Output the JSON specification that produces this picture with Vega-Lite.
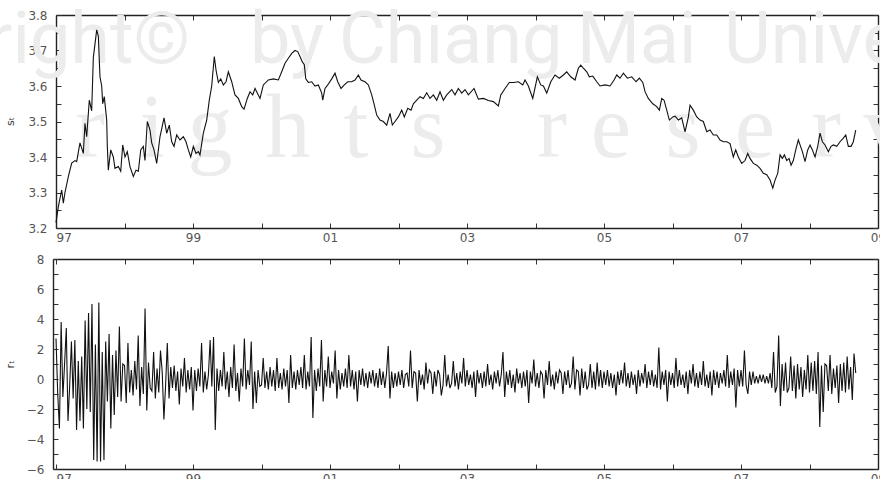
{
"$schema":"https://vega.github.io/schema/vega-lite/v6.json",
"width":825,"height":454,
"autosize":{"type":"none"},
"padding":{"left":53,"top":15,"right":2,"bottom":10},
"background":"white",
"config":{"view":{"stroke":null},
"axis":{"grid":false,"zindex":1,"domainColor":"#222","domainWidth":1.4,"tickColor":"#333","tickSize":-5,"tickWidth":1,"labelFont":"DejaVu Sans","labelFontSize":12,"labelColor":"#555","labelOverlap":false,"titleFont":"DejaVu Sans","titleFontSize":11,"titleColor":"#333","titleFontWeight":"normal"}},
"datasets":{
"wm1":[{"w":"Copyright©","t":1993.642,"v":3.665},{"w":"by","t":1999.832,"v":3.665},{"w":"Chiang","t":2001.131,"v":3.665},{"w":"Mai","t":2004.606,"v":3.665},{"w":"University","t":2006.752,"v":3.665}],
"wm2":[{"c":"r","t":1997.496,"v":3.4},{"c":"i","t":1998.401,"v":3.4},{"c":"g","t":1999.248,"v":3.4},{"c":"h","t":2000.387,"v":3.4},{"c":"t","t":2001.38,"v":3.4},{"c":"s","t":2002.431,"v":3.4},{"c":"r","t":2004.241,"v":3.4},{"c":"e","t":2005.102,"v":3.4},{"c":"s","t":2006.153,"v":3.4},{"c":"e","t":2007.204,"v":3.4},{"c":"r","t":2008.241,"v":3.4},{"c":"v","t":2009.117,"v":3.4}],
"s":[{"t":1997.0,"v":3.215},{"t":1997.034,"v":3.26},{"t":1997.083,"v":3.307},{"t":1997.107,"v":3.27},{"t":1997.131,"v":3.3},{"t":1997.18,"v":3.345},{"t":1997.229,"v":3.383},{"t":1997.277,"v":3.39},{"t":1997.302,"v":3.387},{"t":1997.35,"v":3.44},{"t":1997.399,"v":3.41},{"t":1997.423,"v":3.495},{"t":1997.448,"v":3.457},{"t":1997.486,"v":3.56},{"t":1997.521,"v":3.53},{"t":1997.545,"v":3.68},{"t":1997.594,"v":3.758},{"t":1997.618,"v":3.74},{"t":1997.642,"v":3.626},{"t":1997.667,"v":3.6},{"t":1997.682,"v":3.55},{"t":1997.705,"v":3.57},{"t":1997.74,"v":3.504},{"t":1997.749,"v":3.43},{"t":1997.764,"v":3.363},{"t":1997.799,"v":3.42},{"t":1997.837,"v":3.4},{"t":1997.861,"v":3.368},{"t":1997.91,"v":3.373},{"t":1997.945,"v":3.36},{"t":1997.974,"v":3.434},{"t":1998.007,"v":3.4},{"t":1998.041,"v":3.415},{"t":1998.08,"v":3.373},{"t":1998.129,"v":3.345},{"t":1998.168,"v":3.363},{"t":1998.202,"v":3.36},{"t":1998.237,"v":3.42},{"t":1998.275,"v":3.43},{"t":1998.299,"v":3.39},{"t":1998.333,"v":3.5},{"t":1998.372,"v":3.476},{"t":1998.397,"v":3.44},{"t":1998.431,"v":3.42},{"t":1998.47,"v":3.382},{"t":1998.518,"v":3.457},{"t":1998.577,"v":3.51},{"t":1998.616,"v":3.467},{"t":1998.654,"v":3.49},{"t":1998.689,"v":3.443},{"t":1998.723,"v":3.43},{"t":1998.762,"v":3.462},{"t":1998.81,"v":3.448},{"t":1998.859,"v":3.457},{"t":1998.898,"v":3.443},{"t":1998.932,"v":3.42},{"t":1998.967,"v":3.4},{"t":1999.005,"v":3.43},{"t":1999.044,"v":3.41},{"t":1999.078,"v":3.415},{"t":1999.102,"v":3.406},{"t":1999.151,"v":3.467},{"t":1999.2,"v":3.504},{"t":1999.238,"v":3.56},{"t":1999.273,"v":3.6},{"t":1999.311,"v":3.683},{"t":1999.336,"v":3.645},{"t":1999.37,"v":3.61},{"t":1999.405,"v":3.62},{"t":1999.443,"v":3.603},{"t":1999.482,"v":3.612},{"t":1999.516,"v":3.64},{"t":1999.565,"v":3.612},{"t":1999.613,"v":3.575},{"t":1999.662,"v":3.565},{"t":1999.711,"v":3.542},{"t":1999.745,"v":3.535},{"t":1999.793,"v":3.565},{"t":1999.832,"v":3.584},{"t":1999.872,"v":3.575},{"t":1999.905,"v":3.593},{"t":1999.939,"v":3.58},{"t":1999.978,"v":3.565},{"t":2000.027,"v":3.603},{"t":2000.1,"v":3.617},{"t":2000.173,"v":3.62},{"t":2000.246,"v":3.617},{"t":2000.295,"v":3.64},{"t":2000.343,"v":3.664},{"t":2000.392,"v":3.678},{"t":2000.441,"v":3.692},{"t":2000.489,"v":3.7},{"t":2000.529,"v":3.697},{"t":2000.562,"v":3.683},{"t":2000.596,"v":3.668},{"t":2000.625,"v":3.66},{"t":2000.646,"v":3.62},{"t":2000.684,"v":3.61},{"t":2000.733,"v":3.612},{"t":2000.781,"v":3.6},{"t":2000.83,"v":3.603},{"t":2000.879,"v":3.58},{"t":2000.894,"v":3.56},{"t":2000.927,"v":3.593},{"t":2000.967,"v":3.603},{"t":2001.025,"v":3.62},{"t":2001.073,"v":3.636},{"t":2001.113,"v":3.612},{"t":2001.161,"v":3.593},{"t":2001.209,"v":3.603},{"t":2001.259,"v":3.612},{"t":2001.317,"v":3.612},{"t":2001.365,"v":3.617},{"t":2001.414,"v":3.631},{"t":2001.453,"v":3.617},{"t":2001.511,"v":3.612},{"t":2001.56,"v":3.603},{"t":2001.609,"v":3.575},{"t":2001.647,"v":3.546},{"t":2001.682,"v":3.518},{"t":2001.73,"v":3.504},{"t":2001.779,"v":3.5},{"t":2001.828,"v":3.49},{"t":2001.876,"v":3.523},{"t":2001.91,"v":3.49},{"t":2001.949,"v":3.5},{"t":2001.998,"v":3.513},{"t":2002.047,"v":3.532},{"t":2002.085,"v":3.513},{"t":2002.135,"v":3.537},{"t":2002.183,"v":3.532},{"t":2002.217,"v":3.55},{"t":2002.266,"v":3.56},{"t":2002.314,"v":3.57},{"t":2002.363,"v":3.565},{"t":2002.412,"v":3.581},{"t":2002.46,"v":3.565},{"t":2002.509,"v":3.575},{"t":2002.558,"v":3.56},{"t":2002.606,"v":3.584},{"t":2002.655,"v":3.56},{"t":2002.704,"v":3.575},{"t":2002.777,"v":3.59},{"t":2002.825,"v":3.575},{"t":2002.874,"v":3.593},{"t":2002.923,"v":3.58},{"t":2002.971,"v":3.59},{"t":2003.02,"v":3.575},{"t":2003.103,"v":3.593},{"t":2003.166,"v":3.563},{"t":2003.239,"v":3.565},{"t":2003.312,"v":3.559},{"t":2003.385,"v":3.556},{"t":2003.458,"v":3.544},{"t":2003.493,"v":3.575},{"t":2003.555,"v":3.593},{"t":2003.618,"v":3.61},{"t":2003.677,"v":3.61},{"t":2003.75,"v":3.612},{"t":2003.814,"v":3.603},{"t":2003.847,"v":3.617},{"t":2003.896,"v":3.6},{"t":2003.96,"v":3.565},{"t":2004.027,"v":3.626},{"t":2004.077,"v":3.603},{"t":2004.115,"v":3.6},{"t":2004.164,"v":3.58},{"t":2004.223,"v":3.612},{"t":2004.285,"v":3.631},{"t":2004.348,"v":3.622},{"t":2004.407,"v":3.631},{"t":2004.456,"v":3.64},{"t":2004.515,"v":3.626},{"t":2004.577,"v":3.617},{"t":2004.626,"v":3.65},{"t":2004.661,"v":3.659},{"t":2004.699,"v":3.65},{"t":2004.748,"v":3.64},{"t":2004.786,"v":3.626},{"t":2004.836,"v":3.628},{"t":2004.894,"v":3.612},{"t":2004.942,"v":3.6},{"t":2005.015,"v":3.603},{"t":2005.088,"v":3.6},{"t":2005.147,"v":3.617},{"t":2005.186,"v":3.631},{"t":2005.234,"v":3.622},{"t":2005.283,"v":3.636},{"t":2005.341,"v":3.622},{"t":2005.405,"v":3.626},{"t":2005.468,"v":3.612},{"t":2005.516,"v":3.622},{"t":2005.566,"v":3.61},{"t":2005.599,"v":3.584},{"t":2005.647,"v":3.565},{"t":2005.712,"v":3.55},{"t":2005.77,"v":3.542},{"t":2005.808,"v":3.532},{"t":2005.843,"v":3.565},{"t":2005.877,"v":3.56},{"t":2005.916,"v":3.532},{"t":2005.954,"v":3.504},{"t":2006.004,"v":3.513},{"t":2006.037,"v":3.515},{"t":2006.086,"v":3.504},{"t":2006.135,"v":3.51},{"t":2006.183,"v":3.471},{"t":2006.232,"v":3.513},{"t":2006.256,"v":3.546},{"t":2006.304,"v":3.532},{"t":2006.354,"v":3.513},{"t":2006.402,"v":3.504},{"t":2006.45,"v":3.5},{"t":2006.5,"v":3.471},{"t":2006.548,"v":3.476},{"t":2006.596,"v":3.462},{"t":2006.646,"v":3.462},{"t":2006.694,"v":3.448},{"t":2006.742,"v":3.443},{"t":2006.792,"v":3.443},{"t":2006.84,"v":3.438},{"t":2006.888,"v":3.4},{"t":2006.923,"v":3.42},{"t":2006.961,"v":3.4},{"t":2007.011,"v":3.382},{"t":2007.059,"v":3.39},{"t":2007.098,"v":3.41},{"t":2007.132,"v":3.396},{"t":2007.18,"v":3.382},{"t":2007.23,"v":3.377},{"t":2007.278,"v":3.368},{"t":2007.326,"v":3.354},{"t":2007.376,"v":3.35},{"t":2007.424,"v":3.335},{"t":2007.464,"v":3.312},{"t":2007.497,"v":3.335},{"t":2007.536,"v":3.354},{"t":2007.57,"v":3.406},{"t":2007.604,"v":3.396},{"t":2007.633,"v":3.406},{"t":2007.668,"v":3.39},{"t":2007.701,"v":3.396},{"t":2007.731,"v":3.377},{"t":2007.764,"v":3.39},{"t":2007.799,"v":3.42},{"t":2007.837,"v":3.448},{"t":2007.862,"v":3.434},{"t":2007.896,"v":3.415},{"t":2007.935,"v":3.387},{"t":2007.974,"v":3.42},{"t":2008.008,"v":3.434},{"t":2008.042,"v":3.42},{"t":2008.081,"v":3.4},{"t":2008.12,"v":3.43},{"t":2008.154,"v":3.467},{"t":2008.188,"v":3.443},{"t":2008.227,"v":3.434},{"t":2008.275,"v":3.415},{"t":2008.315,"v":3.43},{"t":2008.348,"v":3.434},{"t":2008.398,"v":3.43},{"t":2008.446,"v":3.443},{"t":2008.494,"v":3.453},{"t":2008.529,"v":3.462},{"t":2008.567,"v":3.43},{"t":2008.607,"v":3.43},{"t":2008.64,"v":3.443},{"t":2008.675,"v":3.476}],
"r":[{"t":1997.0,"r":2.7},{"t":1997.025,"r":-1.0},{"t":1997.05,"r":-3.3},{"t":1997.075,"r":3.8},{"t":1997.1,"r":-1.2},{"t":1997.125,"r":1.0},{"t":1997.15,"r":3.4},{"t":1997.175,"r":-2.8},{"t":1997.2,"r":-0.4},{"t":1997.225,"r":2.5},{"t":1997.25,"r":-1.3},{"t":1997.275,"r":2.6},{"t":1997.3,"r":-3.4},{"t":1997.325,"r":1.2},{"t":1997.35,"r":-2.8},{"t":1997.375,"r":1.5},{"t":1997.4,"r":-3.3},{"t":1997.425,"r":3.9},{"t":1997.45,"r":-2.0},{"t":1997.475,"r":4.4},{"t":1997.5,"r":-2.2},{"t":1997.525,"r":5.0},{"t":1997.55,"r":-5.4},{"t":1997.575,"r":2.3},{"t":1997.6,"r":-5.5},{"t":1997.625,"r":5.1},{"t":1997.65,"r":-5.5},{"t":1997.675,"r":1.8},{"t":1997.7,"r":-5.4},{"t":1997.725,"r":2.5},{"t":1997.75,"r":-1.5},{"t":1997.775,"r":3.0},{"t":1997.8,"r":-3.3},{"t":1997.825,"r":1.6},{"t":1997.85,"r":-2.4},{"t":1997.875,"r":1.9},{"t":1997.9,"r":-1.2},{"t":1997.925,"r":3.5},{"t":1997.95,"r":-1.5},{"t":1997.975,"r":1.0},
{"t":1998.0,"r":0.9},{"t":1998.025,"r":-1.6},{"t":1998.05,"r":2.4},{"t":1998.075,"r":-0.9},{"t":1998.1,"r":0.6},{"t":1998.125,"r":-1.1},{"t":1998.15,"r":1.2},{"t":1998.175,"r":-0.7},{"t":1998.2,"r":2.9},{"t":1998.225,"r":-1.8},{"t":1998.25,"r":0.8},{"t":1998.275,"r":-1.0},{"t":1998.3,"r":4.7},{"t":1998.325,"r":-2.1},{"t":1998.35,"r":1.1},{"t":1998.375,"r":-0.6},{"t":1998.4,"r":-0.8},{"t":1998.425,"r":1.8},{"t":1998.45,"r":-1.3},{"t":1998.475,"r":0.7},{"t":1998.5,"r":-0.9},{"t":1998.525,"r":1.9},{"t":1998.55,"r":0.5},{"t":1998.575,"r":-2.7},{"t":1998.6,"r":-0.4},{"t":1998.625,"r":2.4},{"t":1998.65,"r":-1.3},{"t":1998.675,"r":0.8},{"t":1998.7,"r":-0.6},{"t":1998.725,"r":0.9},{"t":1998.75,"r":-0.8},{"t":1998.775,"r":0.5},{"t":1998.8,"r":-1.7},{"t":1998.825,"r":0.7},{"t":1998.85,"r":-0.5},{"t":1998.875,"r":1.4},{"t":1998.9,"r":-0.9},{"t":1998.925,"r":0.6},{"t":1998.95,"r":-0.7},{"t":1998.975,"r":0.8},
{"t":1999.0,"r":-2.1},{"t":1999.025,"r":0.6},{"t":1999.05,"r":-0.8},{"t":1999.075,"r":0.7},{"t":1999.1,"r":-0.5},{"t":1999.125,"r":2.4},{"t":1999.15,"r":-0.9},{"t":1999.175,"r":0.5},{"t":1999.2,"r":-0.7},{"t":1999.225,"r":0.3},{"t":1999.25,"r":2.6},{"t":1999.275,"r":-0.5},{"t":1999.3,"r":2.8},{"t":1999.325,"r":-3.4},{"t":1999.35,"r":0.7},{"t":1999.375,"r":-0.8},{"t":1999.4,"r":0.6},{"t":1999.425,"r":-0.5},{"t":1999.45,"r":1.8},{"t":1999.475,"r":-0.7},{"t":1999.5,"r":0.5},{"t":1999.525,"r":-1.2},{"t":1999.55,"r":0.8},{"t":1999.575,"r":-0.6},{"t":1999.6,"r":2.3},{"t":1999.625,"r":-0.8},{"t":1999.65,"r":0.4},{"t":1999.675,"r":-1.5},{"t":1999.7,"r":0.7},{"t":1999.725,"r":-0.5},{"t":1999.75,"r":2.7},{"t":1999.775,"r":-0.7},{"t":1999.8,"r":0.6},{"t":1999.825,"r":-0.4},{"t":1999.85,"r":2.5},{"t":1999.875,"r":-2.0},{"t":1999.9,"r":0.5},{"t":1999.925,"r":-1.6},{"t":1999.95,"r":0.6},{"t":1999.975,"r":-0.5},
{"t":2000.0,"r":-0.4},{"t":2000.025,"r":1.4},{"t":2000.05,"r":-0.6},{"t":2000.075,"r":0.5},{"t":2000.1,"r":-0.7},{"t":2000.125,"r":0.8},{"t":2000.15,"r":-0.5},{"t":2000.175,"r":0.6},{"t":2000.2,"r":-0.8},{"t":2000.225,"r":1.4},{"t":2000.25,"r":-0.6},{"t":2000.275,"r":0.4},{"t":2000.3,"r":-0.7},{"t":2000.325,"r":0.7},{"t":2000.35,"r":-0.5},{"t":2000.375,"r":0.6},{"t":2000.4,"r":-1.6},{"t":2000.425,"r":1.6},{"t":2000.45,"r":-0.6},{"t":2000.475,"r":0.5},{"t":2000.5,"r":-0.7},{"t":2000.525,"r":0.6},{"t":2000.55,"r":-0.4},{"t":2000.575,"r":0.8},{"t":2000.6,"r":-0.6},{"t":2000.625,"r":1.6},{"t":2000.65,"r":-0.7},{"t":2000.675,"r":0.5},{"t":2000.7,"r":-0.5},{"t":2000.725,"r":2.8},{"t":2000.75,"r":-2.6},{"t":2000.775,"r":0.6},{"t":2000.8,"r":-0.8},{"t":2000.825,"r":0.7},{"t":2000.85,"r":-0.5},{"t":2000.875,"r":2.6},{"t":2000.9,"r":-1.5},{"t":2000.925,"r":0.6},{"t":2000.95,"r":-0.5},{"t":2000.975,"r":1.5},
{"t":2001.0,"r":-0.6},{"t":2001.025,"r":0.5},{"t":2001.05,"r":-0.3},{"t":2001.075,"r":1.9},{"t":2001.1,"r":-1.3},{"t":2001.125,"r":0.6},{"t":2001.15,"r":-0.7},{"t":2001.175,"r":0.4},{"t":2001.2,"r":-0.5},{"t":2001.225,"r":0.7},{"t":2001.25,"r":-0.6},{"t":2001.275,"r":1.6},{"t":2001.3,"r":-0.5},{"t":2001.325,"r":0.6},{"t":2001.35,"r":-0.7},{"t":2001.375,"r":0.5},{"t":2001.4,"r":-1.5},{"t":2001.425,"r":0.6},{"t":2001.45,"r":-0.4},{"t":2001.475,"r":0.7},{"t":2001.5,"r":-0.5},{"t":2001.525,"r":0.4},{"t":2001.55,"r":-0.6},{"t":2001.575,"r":0.5},{"t":2001.6,"r":-0.3},{"t":2001.625,"r":0.6},{"t":2001.65,"r":-0.5},{"t":2001.675,"r":0.4},{"t":2001.7,"r":-0.6},{"t":2001.725,"r":0.7},{"t":2001.75,"r":-0.4},{"t":2001.775,"r":0.5},{"t":2001.8,"r":-0.6},{"t":2001.825,"r":0.4},{"t":2001.85,"r":2.2},{"t":2001.875,"r":-1.3},{"t":2001.9,"r":0.5},{"t":2001.925,"r":-0.6},{"t":2001.95,"r":0.4},{"t":2001.975,"r":-0.5},
{"t":2002.0,"r":0.5},{"t":2002.025,"r":-0.4},{"t":2002.05,"r":0.6},{"t":2002.075,"r":-0.6},{"t":2002.1,"r":0.3},{"t":2002.125,"r":0.4},{"t":2002.15,"r":-0.5},{"t":2002.175,"r":1.9},{"t":2002.2,"r":-0.6},{"t":2002.225,"r":0.5},{"t":2002.25,"r":0.4},{"t":2002.275,"r":-1.5},{"t":2002.3,"r":0.6},{"t":2002.325,"r":-0.4},{"t":2002.35,"r":0.3},{"t":2002.375,"r":-0.7},{"t":2002.4,"r":1.1},{"t":2002.425,"r":-0.3},{"t":2002.45,"r":0.6},{"t":2002.475,"r":0.4},{"t":2002.5,"r":-1.0},{"t":2002.525,"r":0.5},{"t":2002.55,"r":-0.5},{"t":2002.575,"r":0.6},{"t":2002.6,"r":0.3},{"t":2002.625,"r":-1.1},{"t":2002.65,"r":-0.4},{"t":2002.675,"r":1.6},{"t":2002.7,"r":-0.5},{"t":2002.725,"r":0.3},{"t":2002.75,"r":-0.6},{"t":2002.775,"r":-0.3},{"t":2002.8,"r":1.2},{"t":2002.825,"r":-0.5},{"t":2002.85,"r":0.4},{"t":2002.875,"r":-0.7},{"t":2002.9,"r":0.5},{"t":2002.925,"r":-0.3},{"t":2002.95,"r":1.4},{"t":2002.975,"r":-0.5},
{"t":2003.0,"r":0.6},{"t":2003.025,"r":-0.4},{"t":2003.05,"r":0.3},{"t":2003.075,"r":-0.6},{"t":2003.1,"r":0.5},{"t":2003.125,"r":-1.2},{"t":2003.15,"r":0.6},{"t":2003.175,"r":-0.3},{"t":2003.2,"r":0.4},{"t":2003.225,"r":-0.6},{"t":2003.25,"r":0.5},{"t":2003.275,"r":-0.5},{"t":2003.3,"r":1.0},{"t":2003.325,"r":-0.4},{"t":2003.35,"r":0.3},{"t":2003.375,"r":-0.7},{"t":2003.4,"r":0.5},{"t":2003.425,"r":-0.3},{"t":2003.45,"r":0.6},{"t":2003.475,"r":-0.5},{"t":2003.5,"r":0.3},{"t":2003.525,"r":1.8},{"t":2003.55,"r":-1.2},{"t":2003.575,"r":0.5},{"t":2003.6,"r":-0.4},{"t":2003.625,"r":0.6},{"t":2003.65,"r":-0.6},{"t":2003.675,"r":0.3},{"t":2003.7,"r":-0.9},{"t":2003.725,"r":0.7},{"t":2003.75,"r":-0.3},{"t":2003.775,"r":0.4},{"t":2003.8,"r":-0.6},{"t":2003.825,"r":0.5},{"t":2003.85,"r":-0.5},{"t":2003.875,"r":0.6},{"t":2003.9,"r":-1.6},{"t":2003.925,"r":0.5},{"t":2003.95,"r":-0.3},{"t":2003.975,"r":1.3},
{"t":2004.0,"r":-0.5},{"t":2004.025,"r":0.4},{"t":2004.05,"r":-0.6},{"t":2004.075,"r":0.5},{"t":2004.1,"r":0.3},{"t":2004.125,"r":-1.3},{"t":2004.15,"r":0.6},{"t":2004.175,"r":-0.4},{"t":2004.2,"r":1.2},{"t":2004.225,"r":-0.5},{"t":2004.25,"r":0.3},{"t":2004.275,"r":-0.7},{"t":2004.3,"r":0.5},{"t":2004.325,"r":-0.3},{"t":2004.35,"r":0.6},{"t":2004.375,"r":0.4},{"t":2004.4,"r":-1.0},{"t":2004.425,"r":0.5},{"t":2004.45,"r":-0.4},{"t":2004.475,"r":0.6},{"t":2004.5,"r":-0.6},{"t":2004.525,"r":-0.3},{"t":2004.55,"r":1.5},{"t":2004.575,"r":-0.7},{"t":2004.6,"r":0.6},{"t":2004.625,"r":0.5},{"t":2004.65,"r":-1.1},{"t":2004.675,"r":0.7},{"t":2004.7,"r":-0.6},{"t":2004.725,"r":0.5},{"t":2004.75,"r":-0.7},{"t":2004.775,"r":-0.4},{"t":2004.8,"r":1.0},{"t":2004.825,"r":-0.6},{"t":2004.85,"r":0.5},{"t":2004.875,"r":-0.7},{"t":2004.9,"r":1.1},{"t":2004.925,"r":-0.5},{"t":2004.95,"r":0.6},{"t":2004.975,"r":-0.6},
{"t":2005.0,"r":0.5},{"t":2005.025,"r":-0.4},{"t":2005.05,"r":0.6},{"t":2005.075,"r":-0.5},{"t":2005.1,"r":0.4},{"t":2005.125,"r":-0.6},{"t":2005.15,"r":0.3},{"t":2005.175,"r":-1.1},{"t":2005.2,"r":0.5},{"t":2005.225,"r":-0.4},{"t":2005.25,"r":0.6},{"t":2005.275,"r":-0.3},{"t":2005.3,"r":1.1},{"t":2005.325,"r":-0.5},{"t":2005.35,"r":0.4},{"t":2005.375,"r":-0.6},{"t":2005.4,"r":0.5},{"t":2005.425,"r":-0.4},{"t":2005.45,"r":0.3},{"t":2005.475,"r":-1.0},{"t":2005.5,"r":0.6},{"t":2005.525,"r":-0.5},{"t":2005.55,"r":0.4},{"t":2005.575,"r":-0.3},{"t":2005.6,"r":1.0},{"t":2005.625,"r":-0.6},{"t":2005.65,"r":0.5},{"t":2005.675,"r":-0.4},{"t":2005.7,"r":0.6},{"t":2005.725,"r":-0.5},{"t":2005.75,"r":0.3},{"t":2005.775,"r":-0.6},{"t":2005.8,"r":2.1},{"t":2005.825,"r":-0.7},{"t":2005.85,"r":0.5},{"t":2005.875,"r":-0.4},{"t":2005.9,"r":0.6},{"t":2005.925,"r":-1.5},{"t":2005.95,"r":0.5},{"t":2005.975,"r":-0.4},
{"t":2006.0,"r":0.4},{"t":2006.025,"r":-0.6},{"t":2006.05,"r":1.4},{"t":2006.075,"r":-0.5},{"t":2006.1,"r":0.6},{"t":2006.125,"r":-0.4},{"t":2006.15,"r":0.3},{"t":2006.175,"r":-0.6},{"t":2006.2,"r":0.5},{"t":2006.225,"r":-1.0},{"t":2006.25,"r":0.6},{"t":2006.275,"r":-0.3},{"t":2006.3,"r":1.0},{"t":2006.325,"r":-0.5},{"t":2006.35,"r":0.4},{"t":2006.375,"r":-0.6},{"t":2006.4,"r":0.5},{"t":2006.425,"r":-0.4},{"t":2006.45,"r":1.2},{"t":2006.475,"r":-0.5},{"t":2006.5,"r":0.3},{"t":2006.525,"r":-0.6},{"t":2006.55,"r":0.5},{"t":2006.575,"r":-1.1},{"t":2006.6,"r":0.6},{"t":2006.625,"r":-0.4},{"t":2006.65,"r":0.5},{"t":2006.675,"r":-0.6},{"t":2006.7,"r":0.4},{"t":2006.725,"r":-0.3},{"t":2006.75,"r":0.6},{"t":2006.775,"r":-0.5},{"t":2006.8,"r":1.6},{"t":2006.825,"r":-0.6},{"t":2006.85,"r":0.5},{"t":2006.875,"r":-0.4},{"t":2006.9,"r":0.7},{"t":2006.925,"r":-1.9},{"t":2006.95,"r":0.6},{"t":2006.975,"r":-0.5},
{"t":2007.0,"r":0.6},{"t":2007.025,"r":-0.5},{"t":2007.05,"r":1.9},{"t":2007.075,"r":-0.4},{"t":2007.1,"r":-1.0},{"t":2007.125,"r":0.5},{"t":2007.15,"r":-0.4},{"t":2007.175,"r":0.5},{"t":2007.2,"r":-0.3},{"t":2007.225,"r":0.2},{"t":2007.25,"r":-0.3},{"t":2007.275,"r":0.3},{"t":2007.3,"r":-0.2},{"t":2007.325,"r":0.3},{"t":2007.35,"r":-0.3},{"t":2007.375,"r":0.2},{"t":2007.4,"r":-0.3},{"t":2007.425,"r":0.4},{"t":2007.45,"r":-0.6},{"t":2007.475,"r":1.8},{"t":2007.5,"r":-0.9},{"t":2007.525,"r":-0.5},{"t":2007.55,"r":2.9},{"t":2007.575,"r":-1.8},{"t":2007.6,"r":1.0},{"t":2007.625,"r":-0.8},{"t":2007.65,"r":1.1},{"t":2007.675,"r":-0.9},{"t":2007.7,"r":-0.6},{"t":2007.725,"r":1.5},{"t":2007.75,"r":-0.8},{"t":2007.775,"r":0.9},{"t":2007.8,"r":-1.3},{"t":2007.825,"r":1.0},{"t":2007.85,"r":-0.7},{"t":2007.875,"r":0.8},{"t":2007.9,"r":-1.2},{"t":2007.925,"r":0.6},{"t":2007.95,"r":-0.7},{"t":2007.975,"r":1.6},
{"t":2008.0,"r":-0.9},{"t":2008.025,"r":1.1},{"t":2008.05,"r":-0.8},{"t":2008.075,"r":1.2},{"t":2008.1,"r":-1.0},{"t":2008.125,"r":1.8},{"t":2008.15,"r":-3.2},{"t":2008.175,"r":0.9},{"t":2008.2,"r":-2.2},{"t":2008.225,"r":1.0},{"t":2008.25,"r":0.9},{"t":2008.275,"r":-0.8},{"t":2008.3,"r":1.6},{"t":2008.325,"r":-1.0},{"t":2008.35,"r":0.7},{"t":2008.375,"r":-0.6},{"t":2008.4,"r":0.9},{"t":2008.425,"r":-1.6},{"t":2008.45,"r":1.0},{"t":2008.475,"r":-0.8},{"t":2008.5,"r":1.1},{"t":2008.525,"r":-0.9},{"t":2008.55,"r":1.5},{"t":2008.575,"r":-0.7},{"t":2008.6,"r":0.8},{"t":2008.625,"r":-1.4},{"t":2008.65,"r":1.7},{"t":2008.675,"r":0.4}]
},
"layer":[
{"data":{"name":"wm1"},"mark":{"type":"text","font":"Roboto","fontSize":72,"color":"#ececec","align":"left","baseline":"alphabetic"},
"encoding":{"text":{"field":"w"},
"x":{"field":"t","type":"quantitative","scale":{"domain":[1997,2009],"range":[3,825],"nice":false,"zero":false},"axis":{"orient":"top","labels":false,"title":null,"values":[1997,1998,1999,2000,2001,2002,2003,2004,2005,2006,2007,2008,2009]}},
"y":{"field":"v","type":"quantitative","scale":{"domain":[3.2,3.8],"range":[213,0],"nice":false,"zero":false},"axis":{"orient":"right","labels":false,"title":null,"values":[3.2,3.25,3.3,3.35,3.4,3.45,3.5,3.55,3.6,3.65,3.7,3.75,3.8]}}}},
{"data":{"name":"wm2"},"mark":{"type":"text","font":"Liberation Serif","fontSize":90,"color":"#ececec","align":"center","baseline":"alphabetic"},
"encoding":{"text":{"field":"c"},
"x":{"field":"t","type":"quantitative","scale":{"domain":[1997,2009],"range":[3,825],"nice":false,"zero":false},"axis":null},
"y":{"field":"v","type":"quantitative","scale":{"domain":[3.2,3.8],"range":[213,0],"nice":false,"zero":false},"axis":null}}},
{"data":{"name":"s"},"mark":{"type":"line","color":"#111","strokeWidth":1.1},
"encoding":{
"x":{"field":"t","type":"quantitative","scale":{"domain":[1997,2009],"range":[3,825],"nice":false,"zero":false},"axis":{"orient":"bottom","offset":-241,"title":null,"format":"d","labelFlush":false,"labelPadding":9,"values":[1997,1998,1999,2000,2001,2002,2003,2004,2005,2006,2007,2008,2009],"labelExpr":"datum.value % 2 == 1 ? substring(datum.label, 2) : ''","labelAlign":{"condition":{"test":"datum.value == 1997","value":"left"},"value":"center"}}},
"y":{"field":"v","type":"quantitative","scale":{"domain":[3.2,3.8],"range":[213,0],"nice":false,"zero":false},"axis":{"orient":"left","offset":-3,"title":"sₜ","titleX":-46,"titleY":106,"titleAngle":-90,"titleBaseline":"middle","titleAlign":"center","labelPadding":14,"values":[3.2,3.25,3.3,3.35,3.4,3.45,3.5,3.55,3.6,3.65,3.7,3.75,3.8],"labelExpr":"round(datum.value*20) % 2 == 0 ? format(datum.value, '.1f') : ''"}}}},
{"data":{"name":"r"},"mark":{"type":"line","color":"#111","strokeWidth":1.1},
"encoding":{
"x":{"field":"t","type":"quantitative","scale":{"domain":[1996.956,2009],"range":[0,825],"nice":false,"zero":false},"axis":{"orient":"bottom","title":null,"format":"d","labelFlush":false,"labelPadding":9,"values":[1997,1998,1999,2000,2001,2002,2003,2004,2005,2006,2007,2008,2009],"labelExpr":"datum.value % 2 == 1 ? substring(datum.label, 2) : ''","labelAlign":{"condition":{"test":"datum.value == 1997","value":"left"},"value":"center"}}},
"y":{"field":"r","type":"quantitative","scale":{"domain":[-6,8],"range":[454,244],"nice":false,"zero":false},"axis":{"orient":"left","title":"rₜ","titleX":-43,"titleY":349,"titleAngle":-90,"titleBaseline":"middle","titleAlign":"center","labelPadding":14,"values":[-6,-5,-4,-3,-2,-1,0,1,2,3,4,5,6,7,8],"labelExpr":"datum.value % 2 == 0 ? datum.label : ''"}}}},
{"data":{"name":"r"},"mark":{"type":"line","color":"#111","strokeWidth":1.1,"opacity":0},
"encoding":{
"x":{"field":"t","type":"quantitative","scale":{"domain":[1996.956,2009],"range":[0,825],"nice":false,"zero":false},"axis":{"orient":"top","offset":-244,"labels":false,"title":null,"values":[1997,1998,1999,2000,2001,2002,2003,2004,2005,2006,2007,2008,2009]}},
"y":{"field":"r","type":"quantitative","scale":{"domain":[-6,8],"range":[454,244],"nice":false,"zero":false},"axis":{"orient":"right","labels":false,"title":null,"values":[-6,-5,-4,-3,-2,-1,0,1,2,3,4,5,6,7,8]}}}}
],
"resolve":{"scale":{"x":"independent","y":"independent"},"axis":{"x":"independent","y":"independent"}}
}
